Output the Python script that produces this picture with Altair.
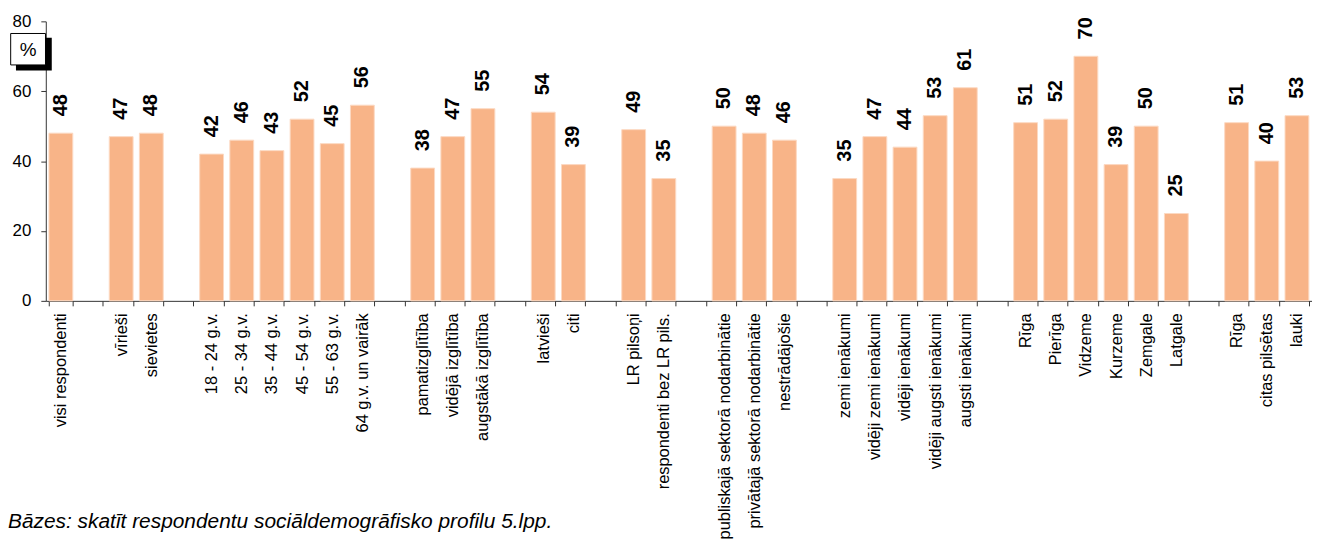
import json
import altair as alt
import pandas as pd

labels = [
    "visi respondenti", "",
    "vīrieši", "sievietes", "",
    "18 - 24 g.v.", "25 - 34 g.v.", "35 - 44 g.v.", "45 - 54 g.v.", "55 - 63 g.v.", "64 g.v. un vairāk", "",
    "pamatizglītība", "vidējā izglītība", "augstākā izglītība", "",
    "latvieši", "citi", "",
    "LR pilsoņi", "respondenti bez LR pils.", "",
    "publiskajā sektorā nodarbinātie", "privātajā sektorā nodarbinātie", "nestrādājošie", "",
    "zemi ienākumi", "vidēji zemi ienākumi", "vidēji ienākumi", "vidēji augsti ienākumi", "augsti ienākumi", "",
    "Rīga", "Pierīga", "Vidzeme", "Kurzeme", "Zemgale", "Latgale", "",
    "Rīga", "citas pilsētas", "lauki",
]
values = [
    48, None,
    47, 48, None,
    42, 46, 43, 52, 45, 56, None,
    38, 47, 55, None,
    54, 39, None,
    49, 35, None,
    50, 48, 46, None,
    35, 47, 44, 53, 61, None,
    51, 52, 70, 39, 50, 25, None,
    51, 40, 53,
]
y_ticks = [0, 20, 40, 60, 80]
unit_label = "%"
footnote = "Bāzes: skatīt respondentu sociāldemogrāfisko profilu 5.lpp."

idx = list(range(len(labels)))
df = pd.DataFrame({"idx": idx, "value": values})

FONT = "Liberation Sans"
W, H = 1273, 281
BAR = "#F8B488"

label_expr = json.dumps(labels, ensure_ascii=False) + "[datum.value]"

x = alt.X(
    "idx:O",
    scale=alt.Scale(domain=idx, paddingInner=0.21, paddingOuter=0.105),
    axis=alt.Axis(
        title=None,
        labelExpr=label_expr,
        labelAngle=-90,
        labelFontSize=16.5,
        labelFont=FONT,
        labelColor="#000000",
        labelPadding=7,
        labelLimit=400,
        tickBand="extent",
        tickSize=5,
        tickColor="#333333",
        domainColor="#333333",
        labelOverlap=False,
    ),
)
y = alt.Y(
    "value:Q",
    scale=alt.Scale(domain=[0, 80], nice=False),
    axis=alt.Axis(
        title=None,
        values=y_ticks,
        grid=False,
        labelFontSize=17,
        labelFont=FONT,
        labelColor="#000000",
        labelPadding=10,
        tickSize=5,
        tickColor="#333333",
        domainColor="#333333",
    ),
)

base = alt.Chart(df)
bars = base.mark_bar(color=BAR, stroke="#FCD9C2", strokeWidth=1).encode(x=x, y=y)
texts = base.transform_filter("isValid(datum.value)").mark_text(
    angle=270, align="left", baseline="middle", dx=17,
    font=FONT, fontSize=20, fontWeight="bold", color="#000000",
).encode(x=x, y="value:Q", text=alt.Text("value:Q", format=".0f"))

one = alt.Chart(pd.DataFrame({"a": [0]}))
shadow = one.mark_rect(color="#000000").encode(
    x=alt.value(-30), x2=alt.value(6), y=alt.value(16.5), y2=alt.value(49.5)
)
box = one.mark_rect(fill="#ffffff", stroke="#000000", strokeWidth=1).encode(
    x=alt.value(-35.3), x2=alt.value(-0.3), y=alt.value(12.2), y2=alt.value(43.8)
)
pct = one.mark_text(font=FONT, fontSize=19, color="#000000", align="center", baseline="middle").encode(
    x=alt.value(-17.8), y=alt.value(28.5), text=alt.value(unit_label)
)
foot = one.mark_text(font=FONT, fontSize=21, fontStyle="italic", color="#000000",
                     align="left", baseline="alphabetic").encode(
    x=alt.value(-38), y=alt.value(H + 228), text=alt.value(footnote)
)

chart = alt.layer(bars, texts, shadow, box, pct, foot).properties(
    width=W, height=H,
    padding={"left": 0, "top": 3, "right": 0, "bottom": 0},
).configure(background="#ffffff").configure_view(strokeWidth=0, stroke="transparent")

chart.save("out.html", embed_options={"renderer": "svg", "actions": False})
